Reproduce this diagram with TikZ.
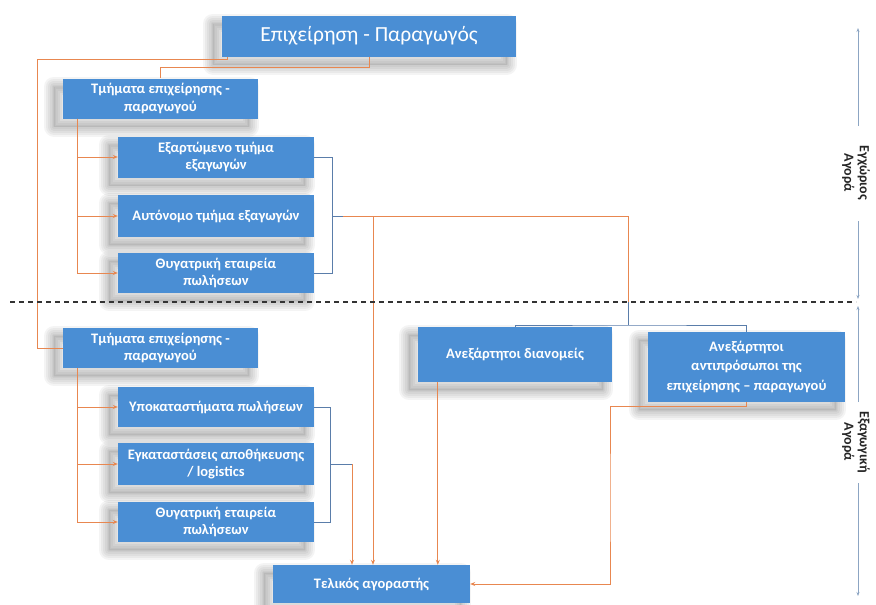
\documentclass[tikz,border=0pt]{standalone}
\usepackage{fontspec}
\setmainfont{Carlito}
\usetikzlibrary{arrows.meta,calc}
\definecolor{boxblue}{RGB}{74,142,212}
\definecolor{conor}{RGB}{232,135,80}
\definecolor{brblue}{RGB}{90,125,170}
\definecolor{axcol}{RGB}{140,165,195}
\tikzset{
  shl/.style={preaction={draw=black!80, draw opacity=0.055, line width=#1, line join=round,
     transform canvas={xshift=-9pt,yshift=-8pt}}},
  bx/.style={fill=boxblue, draw=none, text=white, align=center, inner sep=2pt,
    font=\bfseries\fontsize{14.5}{17.5}\selectfont,
    preaction={fill=black!80, fill opacity=0.08, transform canvas={xshift=-9pt,yshift=-8pt}},
    shl=20pt, shl=16pt, shl=12pt, shl=8pt, shl=4pt, shl=1.5pt},
  oline/.style={draw=conor, line width=0.9pt},
  oarrow/.style={oline, -{Stealth[length=5pt,width=4pt]}},
  bline/.style={draw=brblue, line width=0.6pt},
  axline/.style={draw=axcol, line width=0.8pt, -{Stealth[length=4pt,width=3pt]}},
  axtext/.style={font=\bfseries\fontsize{14}{15.5}\selectfont, align=center, rotate=-90, text=black!85, inner sep=3pt}
}
\begin{document}
\begin{tikzpicture}[x=1pt,y=-1pt]
\useasboundingbox (0,0) rectangle (876,605);
% boxes
\node[bx, minimum width=294pt, minimum height=41pt, font=\fontsize{21.5}{23}\selectfont] (top) at (369,36) {Επιχείρηση - Παραγωγός};
\node[bx, minimum width=195pt, minimum height=40pt] (t1) at (160.5,98.5) {Τμήματα επιχείρησης -\\παραγωγού};
\node[bx, minimum width=196pt, minimum height=41pt] (e1) at (216,157) {Εξαρτώμενο τμήμα\\εξαγωγών};
\node[bx, minimum width=196pt, minimum height=42pt] (e2) at (216,216) {Αυτόνομο τμήμα εξαγωγών};
\node[bx, minimum width=196pt, minimum height=40pt] (e3) at (216,273) {Θυγατρική εταιρεία\\πωλήσεων};
\node[bx, minimum width=195pt, minimum height=40pt] (t2) at (160.5,348) {Τμήματα επιχείρησης -\\παραγωγού};
\node[bx, minimum width=196pt, minimum height=40pt] (s1) at (216,407) {Υποκαταστήματα πωλήσεων};
\node[bx, minimum width=196pt, minimum height=42pt] (s2) at (216,464) {Εγκαταστάσεις αποθήκευσης\\/ logistics};
\node[bx, minimum width=196pt, minimum height=40pt] (s3) at (216,522) {Θυγατρική εταιρεία\\πωλήσεων};
\node[bx, minimum width=197pt, minimum height=38pt] (buyer) at (371.5,584) {Τελικός αγοραστής};
\node[bx, minimum width=194pt, minimum height=55pt] (dist) at (515,354.5) {Ανεξάρτητοι διανομείς};
\node[bx, minimum width=197pt, minimum height=70pt, font=\bfseries\fontsize{14.5}{19.5}\selectfont] (rep) at (746.5,367) {Ανεξάρτητοι\\αντιπρόσωποι της\\επιχείρησης – παραγωγού};
% helper coordinates
\coordinate (sx) at (77,0);
\coordinate (bxr) at (332,0);
\coordinate (lft) at (37,59);
\coordinate (jx) at (628,302);
\coordinate (brk) at (628,325);
\coordinate (rx) at (610,500);
\coordinate (dl) at (10,302);
\coordinate (dr) at (856,302);
% top to departments
\draw[oline] (top.south) -- ++(0,10.5) -| (t1.north);
\draw[oline] ([xshift=6pt]top.south west) |- (lft) |- (t2.west);
% first group
\draw[oarrow] (t1.south -| sx) |- (e1.west);
\draw[oarrow] (t1.south -| sx) |- (e2.west);
\draw[oarrow] (t1.south -| sx) |- (e3.west);
\draw[bline] (e1.east) -- (e1.east -| bxr) -- (e3.east -| bxr) -- (e3.east);
\coordinate (m1) at ($(e2.east -| bxr)+(11,0)$);
\draw[bline] (e2.east -| bxr) -- (m1);
\draw[oline] (m1) -| (jx);
\draw[bline] (jx) -- (brk);
\draw[bline] (dist.north) |- (brk) -| (rep.north);
\coordinate (v1) at (373,216);
\draw[oarrow] (v1) -- (v1 |- buyer.north);
% second group
\draw[oarrow] (t2.south -| sx) |- (s1.west);
\draw[oarrow] (t2.south -| sx) |- (s2.west);
\draw[oarrow] (t2.south -| sx) |- (s3.west);
\coordinate (bxr2) at (330,0);
\draw[bline] (s1.east) -- (s1.east -| bxr2) -- (s3.east -| bxr2) -- (s3.east);
\coordinate (m2) at (352,464);
\draw[bline] (s2.east -| bxr2) -- (m2);
\draw[oarrow] (m2) -- (m2 |- buyer.north);
% distributors / reps to buyer
\coordinate (d1) at ([xshift=20pt]dist.south west);
\draw[oarrow] (d1) -- (d1 |- buyer.north);
\draw[oarrow] (rep.south) -- ++(0,4) -| (rx) |- (buyer.east);
% dashed border
\draw[dashed, line width=1.2pt, dash pattern=on 5pt off 4pt, black!80] (dl) -- (dr);
% market axis
\node[axtext] (dom) at (856,173) {Εγχώριος\\Αγορά};
\node[axtext] (exp) at (856,442) {Εξαγωγική\\Αγορά};
\coordinate (a1) at (858,28);
\coordinate (a2) at (858,299);
\coordinate (a3) at (858,306);
\coordinate (a4) at (858,596);
\coordinate (g1) at (858,126);
\coordinate (g2) at (858,221);
\coordinate (g3) at (858,402);
\coordinate (g4) at (858,483);
\draw[axline] (g1) -- (a1);
\draw[axline] (g2) -- (a2);
\draw[axline] (g3) -- (a3);
\draw[axline] (g4) -- (a4);
\end{tikzpicture}
\end{document}
